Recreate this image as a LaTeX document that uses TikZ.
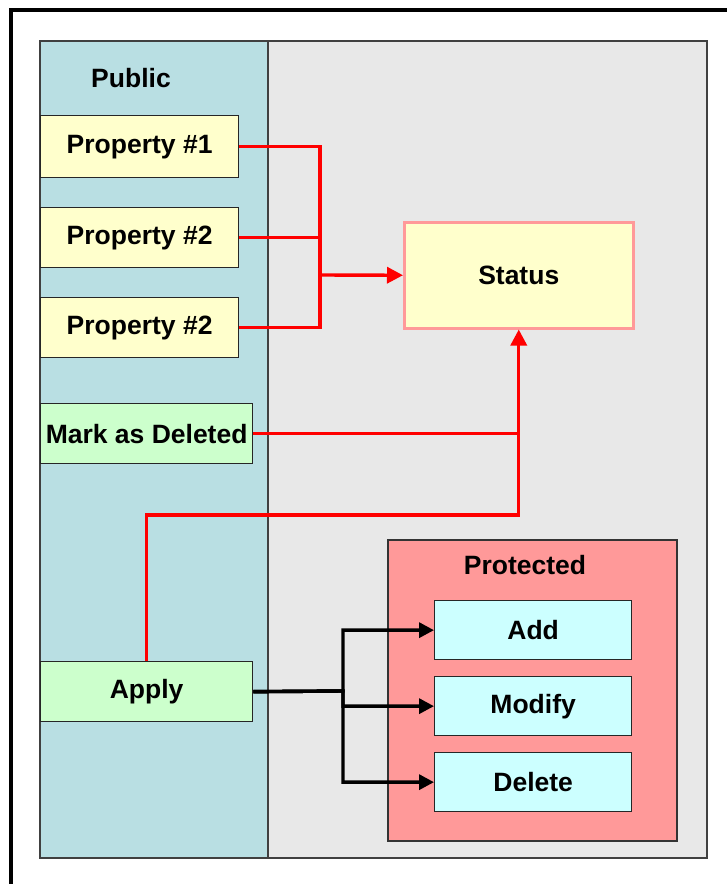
\documentclass[tikz,border=0pt]{standalone}
\usepackage{fontspec}
\setmainfont{Liberation Sans}
\usetikzlibrary{arrows.meta}

\definecolor{publicblue}{RGB}{185,223,227}
\definecolor{panelgrey}{RGB}{232,232,232}
\definecolor{propyellow}{RGB}{255,255,204}
\definecolor{actgreen}{RGB}{204,255,204}
\definecolor{opcyan}{RGB}{204,255,255}
\definecolor{protred}{RGB}{255,153,153}

\begin{document}
\begin{tikzpicture}[x=1pt, y=-1pt,
    every node/.style={font=\fontsize{26.5}{30}\selectfont\bfseries},
    box/.style={draw=black!85, line width=1.3pt, inner sep=0pt, anchor=north west},
    redline/.style={red, line width=3.4pt},
    blackline/.style={black, line width=3.4pt}]
  \useasboundingbox (0,0) rectangle (727,884);

  % outer frame (cut at right and bottom)
  \draw[line width=3.5pt] (11,884) -- (11,10) -- (727,10);

  % panels
  \filldraw[fill=panelgrey, draw=black!75, line width=1.5pt] (40,41) rectangle (707,858);
  \filldraw[fill=publicblue, draw=black!75, line width=1.5pt] (40,41) rectangle (268,858);
  \node (public) at (131,78) {Public};

  % public members
  \node[box, fill=propyellow, minimum width=198pt, minimum height=62pt] (p1) at (40,115) {Property \#1};
  \node[box, fill=propyellow, minimum width=198pt, minimum height=60pt] (p2) at (40,207) {Property \#2};
  \node[box, fill=propyellow, minimum width=198pt, minimum height=60pt] (p3) at (40,297) {Property \#2};
  \node[box, fill=actgreen, minimum width=212pt, minimum height=60pt] (mark) at (40,403) {Mark as Deleted};
  \node[box, fill=actgreen, minimum width=212pt, minimum height=60pt] (apply) at (40,661) {Apply};

  % status
  \node[box, draw=protred, line width=2.5pt, fill=propyellow, minimum width=229pt, minimum height=106pt] (status) at (403,221) {Status};

  % protected members
  \filldraw[fill=protred, draw=black!80, line width=1.5pt] (388,540) rectangle (677,841);
  \node (prot) at (525,565) {Protected};
  \node[box, fill=opcyan, minimum width=197pt, minimum height=59pt] (add) at (434,600) {Add};
  \node[box, fill=opcyan, minimum width=197pt, minimum height=59pt] (modify) at (434,676) {Modify};
  \node[box, fill=opcyan, minimum width=197pt, minimum height=59pt] (delete) at (434,752) {Delete};

  % property links into status
  \coordinate (pj) at (320,275);
  \draw[redline] (p1.east) -| (pj);
  \draw[redline] (p2.east) -| (pj);
  \draw[redline] (p3.east) -| (pj);
  \draw[redline, -{Triangle[length=16pt, width=16pt]}] (pj) -- (status.west);

  % mark / apply into status
  \coordinate (aj) at (status.south |- 0,515);
  \draw[redline] (mark.east) -- (mark.east -| status.south);
  \draw[redline, -{Triangle[length=16pt, width=16pt]}] (apply.north) |- (aj) -- (status.south);

  % apply calls protected ops
  \coordinate (bj) at (343,691);
  \foreach \op in {add, modify, delete}
    \draw[blackline, -{Triangle[length=15pt, width=15pt]}] (apply.east) -- (bj) |- (\op.west);
\end{tikzpicture}
\end{document}
